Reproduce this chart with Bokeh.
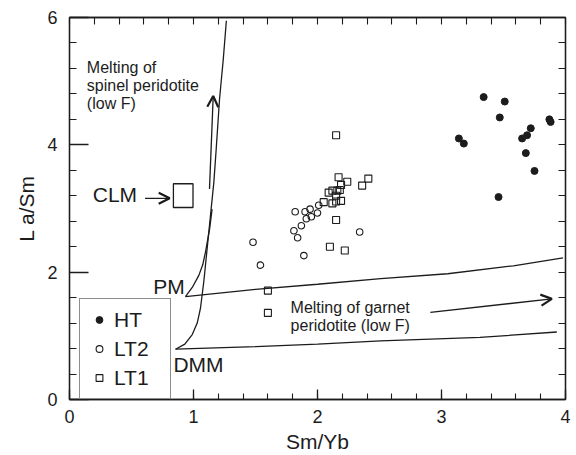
from bokeh.plotting import figure
from bokeh.models import (FixedTicker, LinearAxis, Legend, LegendItem, Title,
                          Arrow, OpenHead)
from bokeh.core.properties import value
from bokeh.embed import file_html
from bokeh.resources import INLINE

# ---------------- data ----------------
ht_x = [3.14, 3.18, 3.34, 3.51, 3.47, 3.87, 3.88, 3.72, 3.69, 3.65, 3.68, 3.75, 3.46]
ht_y = [4.10, 4.02, 4.75, 4.68, 4.43, 4.40, 4.36, 4.26, 4.15, 4.10, 3.87, 3.59, 3.18]

lt2_x = [1.48, 1.54, 1.82, 1.90, 1.94, 2.01, 2.00, 1.95, 1.91, 1.87, 1.81, 1.84, 1.89, 2.34]
lt2_y = [2.47, 2.11, 2.95, 2.95, 2.99, 3.05, 2.93, 2.87, 2.84, 2.73, 2.65, 2.54, 2.26, 2.63]

lt1_x = [2.15, 2.17, 2.41, 2.36, 2.24, 2.19, 2.09, 2.12, 2.16, 2.18, 2.15, 2.19, 2.12,
         2.15, 2.05, 2.15, 2.10, 2.22, 1.60, 1.60]
lt1_y = [4.15, 3.49, 3.47, 3.36, 3.42, 3.37, 3.25, 3.28, 3.28, 3.29, 3.20, 3.12, 3.08,
         3.11, 3.10, 2.82, 2.40, 2.34, 1.71, 1.36]

# model melting curves
dmm_spinel_x = [0.855, 0.93, 0.99, 1.03, 1.056, 1.083, 1.11, 1.137, 1.164, 1.183, 1.21, 1.24, 1.265]
dmm_spinel_y = [0.79, 0.87, 1.02, 1.20, 1.43, 1.85, 2.37, 2.89, 3.41, 3.93, 4.72, 5.34, 5.95]
pm_spinel_x = [0.935, 0.99, 1.043, 1.075, 1.097, 1.13, 1.15]
pm_spinel_y = [1.615, 1.76, 1.95, 2.12, 2.32, 2.68, 2.99]
pm_garnet_x = [0.935, 1.5, 2.0, 2.51, 3.05, 3.58, 3.98]
pm_garnet_y = [1.615, 1.73, 1.81, 1.90, 1.975, 2.10, 2.225]
dmm_garnet_x = [0.855, 1.5, 2.0, 2.51, 3.31, 3.93]
dmm_garnet_y = [0.79, 0.83, 0.87, 0.92, 0.975, 1.06]

# CLM field
clm_left, clm_right, clm_bottom, clm_top = 0.838, 0.996, 3.016, 3.389

x_ticks = [0, 1, 2, 3, 4]
y_ticks = [0, 2, 4, 6]
x_minor = [i / 5 for i in range(21)]
y_minor = [i * 0.4 for i in range(16)]

FONT = "Liberation Sans"
INK = "#1c1c1c"

p = figure(width=576, height=455, x_range=(0, 4), y_range=(0, 6),
           output_backend="svg", toolbar_location=None,
           min_border_left=69, min_border_right=11, min_border_top=17,
           min_border_bottom=53, x_axis_location=None, y_axis_location=None)
p.xgrid.visible = False
p.ygrid.visible = False
p.outline_line_color = INK
p.outline_line_width = 1.3
p.background_fill_color = "white"
p.border_fill_color = "white"


def make_axis(ticks, minor, tin, min_in):
    ax = LinearAxis(ticker=FixedTicker(ticks=ticks, minor_ticks=minor))
    ax.axis_line_color = INK
    ax.axis_line_width = 1.3
    ax.major_tick_in = tin
    ax.major_tick_out = 0
    ax.minor_tick_in = min_in
    ax.minor_tick_out = 0
    ax.major_tick_line_color = INK
    ax.major_tick_line_width = 1.3
    ax.minor_tick_line_color = INK
    ax.minor_tick_line_width = 1.1
    ax.major_label_text_font = FONT
    ax.major_label_text_color = INK
    ax.major_label_text_font_size = "18px"
    return ax


xb = make_axis(x_ticks, x_minor, 10, 6)
xb.major_label_standoff = 10
xb.axis_label = "Sm/Yb"
xb.axis_label_text_font = FONT
xb.axis_label_text_font_size = "21px"
xb.axis_label_text_font_style = "normal"
xb.axis_label_text_color = INK
xb.axis_label_standoff = 4
p.add_layout(xb, "below")

yl = make_axis(y_ticks, y_minor, 19, 7)
yl.major_label_standoff = 12
p.add_layout(yl, "left")

# top / right frame ticks (no labels)
xt = make_axis([], x_minor, 9, 7)
p.add_layout(xt, "above")
yr = make_axis([], y_minor, 12, 7)
p.add_layout(yr, "right")

# y axis title, placed lower than the frame centre as in the original
ytitle = Title(text="L a/Sm", align="center", offset=-17, standoff=13,
               text_font=FONT, text_font_size="21px", text_font_style="normal",
               text_color=INK)
p.add_layout(ytitle, "left")

# curves
for cx, cy in [(dmm_spinel_x, dmm_spinel_y), (pm_spinel_x, pm_spinel_y),
               (pm_garnet_x, pm_garnet_y), (dmm_garnet_x, dmm_garnet_y)]:
    p.line(cx, cy, line_color=INK, line_width=1.3)

# CLM box
p.quad(left=[clm_left], right=[clm_right], bottom=[clm_bottom], top=[clm_top],
       fill_color=None, line_color=INK, line_width=1.3)

# arrows (annotation positions)
arrows = [((1.129, 3.306), (1.159, 4.767)),
          ((2.91, 1.37), (3.89, 1.58)),
          ((0.609, 3.16), (0.808, 3.16))]
for (x0, y0), (x1, y1) in arrows:
    p.add_layout(Arrow(x_start=x0, y_start=y0, x_end=x1, y_end=y1,
                       line_color=INK, line_width=1.3,
                       end=OpenHead(size=11, line_color=INK, line_width=2.2)))

# data
r_ht = p.scatter(ht_x, ht_y, marker="circle", size=7, fill_color=INK, line_color=INK)
r_lt2 = p.scatter(lt2_x, lt2_y, marker="circle", size=6.5, fill_color=None,
                  line_color=INK, line_width=1.1)
r_lt1 = p.scatter(lt1_x, lt1_y, marker="square", size=7, fill_color=None,
                  line_color=INK, line_width=1.1)

# text annotations
big = dict(text_font=value(FONT), text_font_size="21px", text_color=INK,
           text_baseline="middle")
p.text(x=[0.545], y=[3.22], text=["CLM"], text_align="right", **big)
p.text(x=[0.93], y=[1.77], text=["PM"], text_align="right", **big)
p.text(x=[0.838], y=[0.544], text=["DMM"], text_align="left", **big)

small = dict(text_font=value(FONT), text_font_size="16px", text_color=INK,
             text_baseline="middle", text_align="left")
p.text(x=[0.14, 0.14, 0.14], y=[5.21, 4.93, 4.65],
       text=["Melting  of", "spinel peridotite", "(low  F)"], **small)
p.text(x=[1.783, 1.783], y=[1.44, 1.166],
       text=["Melting of garnet", "peridotite (low  F)"], **small)

legend = Legend(items=[LegendItem(label="HT", renderers=[r_ht]),
                       LegendItem(label="LT2", renderers=[r_lt2]),
                       LegendItem(label="LT1", renderers=[r_lt1])],
                location=(10, 0), margin=0, padding=6, spacing=0,
                glyph_width=26, glyph_height=17, label_height=29, label_width=50,
                label_standoff=2, label_text_font=FONT, label_text_font_size="21px",
                label_text_color=INK, border_line_color=INK, border_line_width=1.3,
                background_fill_color="white", background_fill_alpha=1.0)
p.add_layout(legend)

open("out.html", "w").write(file_html(p, INLINE))
